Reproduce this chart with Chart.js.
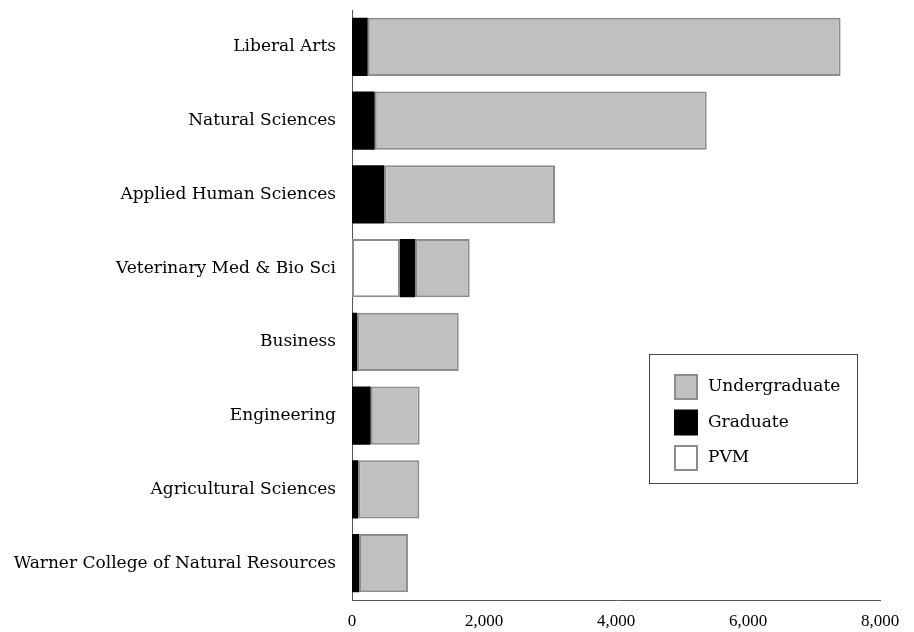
<!DOCTYPE html>
<html>
<head>
<meta charset="utf-8">
<script src="https://cdn.jsdelivr.net/npm/chart.js@4"></script>
<style>
  html, body { margin: 0; padding: 0; background: #fff; }
  #wrap { width: 914px; height: 632px; }
</style>
</head>
<body>
<div id="wrap"><canvas id="barChart" width="914" height="632"></canvas></div>
<script>
// Colleges, top to bottom
const colleges = [
  "Liberal Arts",
  "Natural Sciences",
  "Applied Human Sciences",
  "Veterinary Med & Bio Sci",
  "Business",
  "Engineering",
  "Agricultural Sciences",
  "Warner College of Natural Resources"
];

// Enrollment by level
const pvm = [0, 0, 0, 727, 0, 0, 0, 0];
const graduate = [238, 344, 490, 228, 80, 283, 96, 106];
const undergraduate = [7165, 5030, 2586, 828, 1537, 742, 924, 742];

const xTicks = [0, 2000, 4000, 6000, 8000];

const labelFont = "'DejaVu Serif', serif";
const tickFont = "'Liberation Serif', serif";

// Draw the boxed legend inside the plot, like the original
const boxLegend = {
  id: "boxLegend",
  afterDraw(chart) {
    const ctx = chart.ctx;
    const area = chart.chartArea;
    const left = area.right - 231, top = 354;
    const w = 208, h = 129;
    ctx.save();
    ctx.strokeStyle = "#444";
    ctx.lineWidth = 1;
    ctx.strokeRect(left + 0.5, top + 0.5, w, h);
    const items = chart.data.datasets.slice().reverse();
    ctx.font = "17px " + labelFont;
    ctx.textBaseline = "middle";
    items.forEach((ds, i) => {
      const y = top + 20 + i * 35.5;
      ctx.fillStyle = ds.backgroundColor;
      ctx.fillRect(left + 25, y, 24, 26);
      if (ds.borderColor !== ds.backgroundColor) {
        ctx.strokeStyle = ds.borderColor;
        ctx.lineWidth = 2;
        ctx.strokeRect(left + 26, y + 1, 22, 24);
      }
      ctx.fillStyle = "#000";
      ctx.fillText(ds.label, left + 59, y + 13);
    });
    ctx.restore();
  }
};

const ctx = document.getElementById("barChart").getContext("2d");
const chart = new Chart(ctx, {
  type: "bar",
  data: {
    labels: colleges,
    datasets: [
      {
        label: "PVM",
        data: pvm,
        backgroundColor: "#ffffff",
        borderColor: "#8c8c8c",
        borderWidth: 2,
        borderSkipped: false
      },
      {
        label: "Graduate",
        data: graduate,
        backgroundColor: "#000000",
        borderColor: "#000000",
        borderWidth: 0,
        borderSkipped: false
      },
      {
        label: "Undergraduate",
        data: undergraduate,
        backgroundColor: "#c0c0c0",
        borderColor: "#8c8c8c",
        borderWidth: 2,
        borderSkipped: false
      }
    ]
  },
  options: {
    indexAxis: "y",
    responsive: false,
    animation: false,
    layout: { padding: { left: 0, right: 34, top: 10, bottom: 0 } },
    datasets: {
      bar: { categoryPercentage: 1, barPercentage: 0.79 }
    },
    scales: {
      x: {
        stacked: true,
        min: 0,
        max: 8000,
        afterBuildTicks(scale) {
          scale.ticks = xTicks.map(v => ({ value: v }));
        },
        afterFit(scale) {
          scale.height = 32;
          scale.paddingLeft = 0;
        },
        grid: { display: false, drawTicks: false },
        border: { display: true, color: "#555", width: 1 },
        ticks: {
          color: "#000",
          padding: 11,
          maxRotation: 0,
          font: { family: tickFont, size: 17 },
          callback: v => v.toLocaleString("en-US")
        }
      },
      y: {
        stacked: true,
        afterFit(scale) {
          scale.width = 352;
          scale.paddingTop = 0;
          scale.paddingBottom = 0;
        },
        grid: { display: false, drawTicks: false },
        border: { display: true, color: "#555", width: 1 },
        ticks: {
          color: "#000",
          padding: 16,
          font: { family: labelFont, size: 17 }
        }
      }
    },
    plugins: {
      legend: { display: false },
      tooltip: { enabled: false }
    }
  },
  plugins: [boxLegend]
});
</script>
</body>
</html>
